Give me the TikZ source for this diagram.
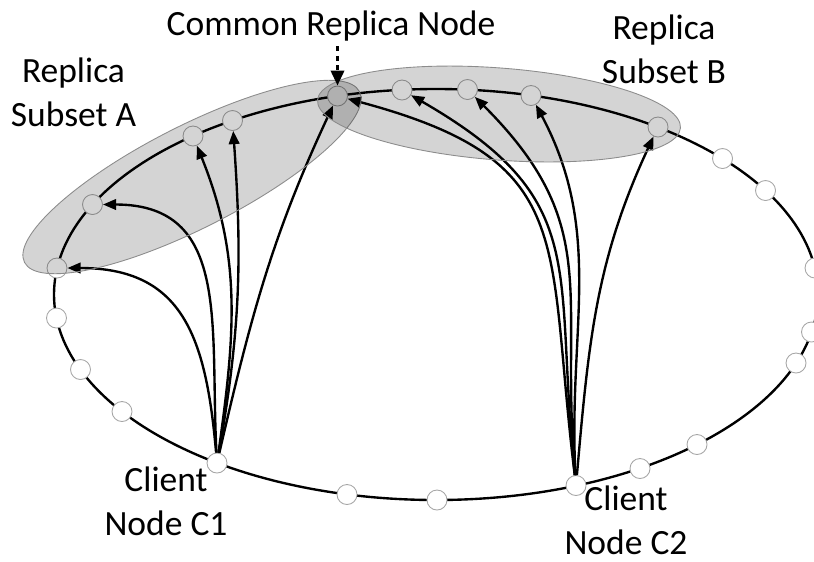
\documentclass[tikz,border=0pt]{standalone}
\usepackage{fontspec}
\setmainfont{Carlito}
\usetikzlibrary{arrows.meta}

\begin{document}
\begin{tikzpicture}[
  x=1cm, y=1cm,
  every node/.style={inner sep=1pt},
  peer/.style={circle, draw=gray!70, fill=white, line width=0.5pt, minimum size=0.4cm, inner sep=0pt},
  ring/.style={draw, line width=1.35pt},
  request/.style={draw, line width=1.35pt, -{Triangle[length=7.5pt, width=6pt]}},
  pointer/.style={draw, line width=1.6pt, dash pattern=on 2.8pt off 2.6pt, -{Triangle[length=8.5pt, width=7.5pt]}},
  subset/.style={draw=gray!90, line width=0.5pt, fill=black, fill opacity=0.17},
  lbl/.style={font=\fontsize{20.2}{25}\selectfont, align=center, inner sep=0pt}]

  \useasboundingbox (0,0) rectangle (16.28,-11.22);

  % ---- ring ---------------------------------------------------------------
  \draw[ring] (8.72,-5.89) ellipse (7.64 and 4.11);

  % ---- peers on the ring --------------------------------------------------
  % replica subset A, upper left
  \node[peer] (A1) at (1.14,-5.36)  {};
  \node[peer] (A2) at (1.85,-4.09)  {};
  \node[peer] (A3) at (3.86,-2.72)  {};
  \node[peer] (A4) at (4.65,-2.41)  {};
  % the common replica
  \node[peer] (CR) at (6.75,-1.92)  {};
  % replica subset B, top
  \node[peer] (B1) at (8.04,-1.80)  {};
  \node[peer] (B2) at (9.35,-1.79)  {};
  \node[peer] (B3) at (10.62,-1.91) {};
  \node[peer] (B4) at (13.16,-2.54) {};
  % right side
  \node[peer] (R1) at (14.45,-3.17) {};
  \node[peer] (R2) at (15.31,-3.81) {};
  \node[peer] (R3) at (16.30,-5.36) {};
  \node[peer] (R4) at (16.23,-6.64) {};
  \node[peer] (R5) at (15.92,-7.26) {};
  \node[peer] (R6) at (13.94,-8.89) {};
  \node[peer] (R7) at (12.80,-9.37) {};
  % bottom, with the two clients
  \node[peer] (C2) at (11.52,-9.71) {};
  \node[peer] (D1) at (8.74,-10.00) {};
  \node[peer] (D2) at (6.94,-9.89)  {};
  \node[peer] (C1) at (4.34,-9.26)  {};
  % left side
  \node[peer] (L1) at (2.44,-8.23)  {};
  \node[peer] (L2) at (1.61,-7.39)  {};
  \node[peer] (L3) at (1.13,-6.36)  {};

  % ---- requests -----------------------------------------------------------
  % client C1 to subset A
  \draw[request] (C1) to[out=95, in=0, looseness=1.25]  (A1);
  \draw[request] (C1) to[out=93, in=0, looseness=1.2]   (A2);
  \draw[request] (C1) to[out=82, in=-68]                (A3);
  \draw[request] (C1) to[out=80, in=-86]                (A4);
  \draw[request] (C1) to[out=77, in=-115]               (CR);
  % client C2 to subset B
  \draw[request] (C2) to[out=97, in=-15, looseness=1.4]  (CR);
  \draw[request] (C2) to[out=96, in=-30, looseness=1.3]  (B1);
  \draw[request] (C2) to[out=95, in=-45, looseness=1.2]  (B2);
  \draw[request] (C2) to[out=93, in=-62]                 (B3);
  \draw[request] (C2) to[out=85, in=-115]                (B4);

  % ---- replica subsets ----------------------------------------------------
  \draw[subset, rotate around={27:(3.84,-3.54)}] (3.84,-3.54) ellipse (3.76 and 1.02);
  \draw[subset, rotate around={-4.4:(9.98,-2.28)}] (9.98,-2.28) ellipse (3.64 and 0.92);

  % ---- labels -------------------------------------------------------------
  \node[lbl, anchor=base] (lblCR) at (6.62,-0.70) {Common Replica Node};
  \node[lbl] (lblA)  at (1.47,-1.85)  {Replica\\Subset A};
  \node[lbl] (lblB)  at (13.28,-0.99) {Replica\\Subset B};
  \node[lbl] (lblC1) at (3.32,-10.03) {Client\\Node C1};
  \node[lbl] (lblC2) at (12.52,-10.40) {Client\\Node C2};

  \draw[pointer] ([yshift=-3pt]CR |- lblCR.south) -- (CR);
\end{tikzpicture}
\end{document}
